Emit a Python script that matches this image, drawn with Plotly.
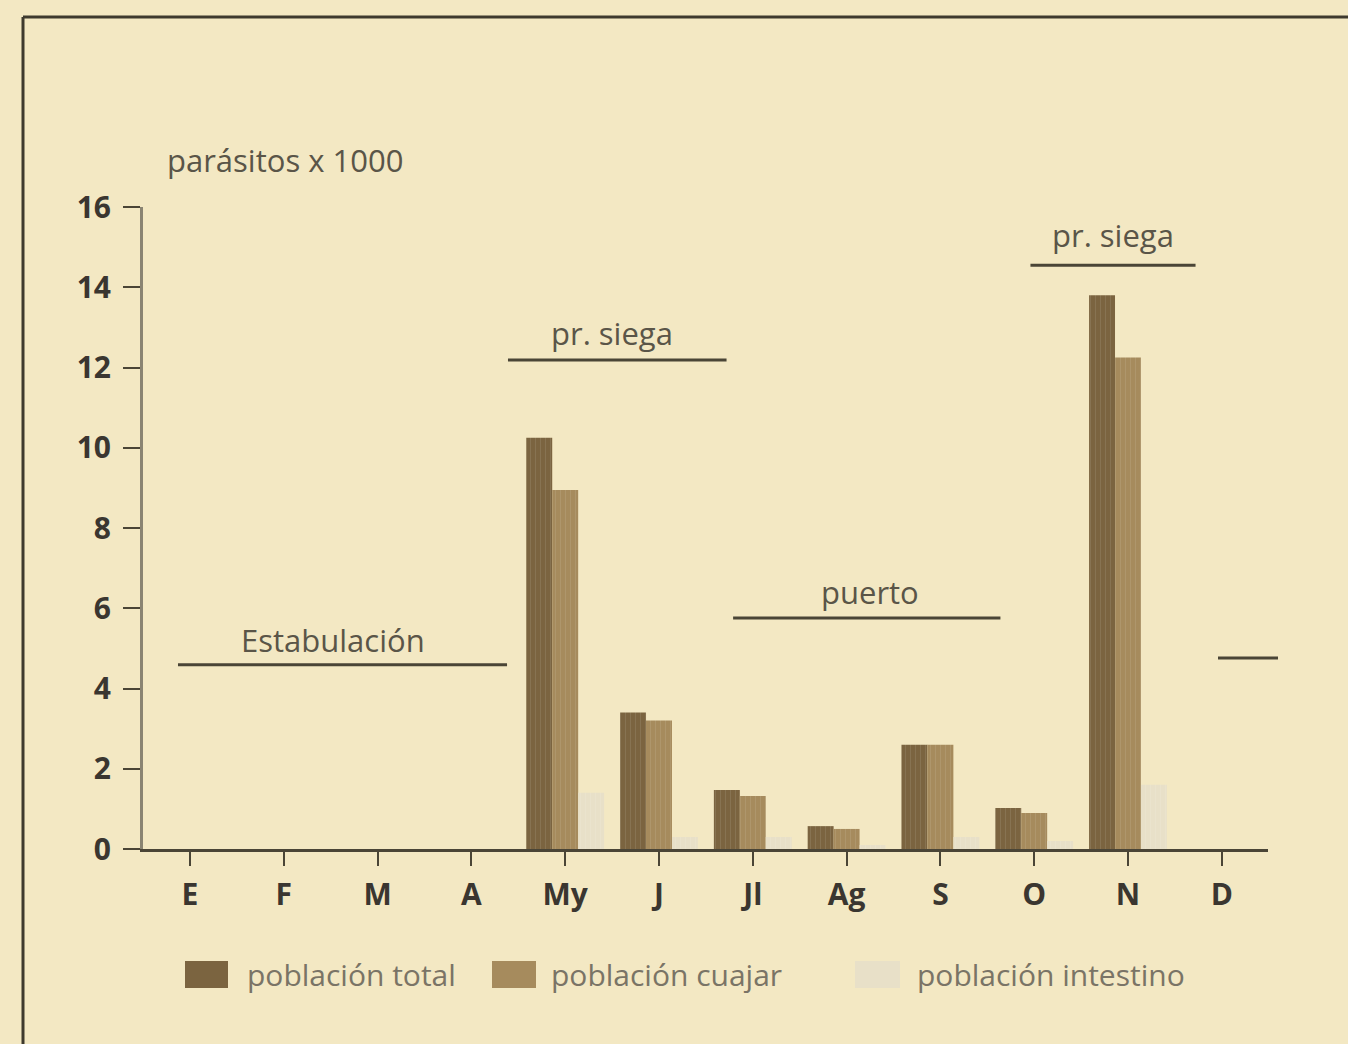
import plotly.graph_objects as go

months = ["E", "F", "M", "A", "My", "J", "Jl", "Ag", "S", "O", "N", "D"]
pob_total = [0, 0, 0, 0, 10.25, 3.4, 1.47, 0.57, 2.6, 1.02, 13.8]
pob_cuajar = [0, 0, 0, 0, 8.95, 3.2, 1.32, 0.5, 2.6, 0.9, 12.25]
pob_intestino = [0, 0, 0, 0, 1.4, 0.3, 0.3, 0.1, 0.3, 0.2, 1.6]
series_names = ["población total", "población cuajar", "población intestino"]
series_colors = ["#7b6440", "#a68b5d", "#e8e0c8"]
y_ticks = [0, 2, 4, 6, 8, 10, 12, 14, 16]

# period labels: (text, x centre, y text, x0 line, x1 line, y line)
periods = [
    ("Estabulación", 1.525, 5.21, -0.128, 3.38, 4.59),
    ("pr. siega", 4.50, 12.86, 3.39, 5.72, 12.19),
    ("puerto", 7.25, 6.40, 5.79, 8.64, 5.76),
    ("pr. siega", 9.84, 15.30, 8.96, 10.72, 14.55),
]

W, H = 1348, 1044
L, R, T, B = 143, 1268, 207, 849
X0PX, STEP = 190, 93.8


def px(x):
    return (x - L) / (R - L)


def py(y):
    return (B - y) / (B - T)


BG = "#f3e8c3"
INK = "#4a4536"
FONT = "Open Sans"

fig = go.Figure()
for name, vals, col in zip(series_names, [pob_total, pob_cuajar, pob_intestino], series_colors):
    fig.add_trace(go.Bar(
        x=list(range(len(vals))), y=vals, name=name,
        marker=dict(color=col, line=dict(width=0),
                    pattern=dict(shape="|", size=5, solidity=0.15,
                                 fgcolor="#ffffff", fgopacity=0.12)),
        showlegend=False,
    ))

shapes = []
annotations = []
for text, xc, yt, x0, x1, yl in periods:
    shapes.append(dict(type="line", xref="x", yref="y", x0=x0, x1=x1, y0=yl, y1=yl,
                       line=dict(color=INK, width=3)))
    annotations.append(dict(x=xc, y=yt, xref="x", yref="y", text=text, showarrow=False,
                            yanchor="middle",
                            font=dict(family=FONT, size=31, color="#5a5548")))

# short line at right
shapes.append(dict(type="line", xref="paper", yref="paper", x0=px(1218), x1=px(1278),
                   y0=py(658), y1=py(658), line=dict(color=INK, width=3)))

# frame (left and top)
shapes.append(dict(type="line", xref="paper", yref="paper", x0=px(23), x1=px(23),
                   y0=py(1044), y1=py(17), line=dict(color="#3e3a2e", width=3)))
shapes.append(dict(type="line", xref="paper", yref="paper", x0=px(23), x1=px(1348),
                   y0=py(17), y1=py(17), line=dict(color="#3e3a2e", width=3)))

# y axis title
annotations.append(dict(x=px(165), y=py(160), xref="paper", yref="paper",
                        text="parásitos x 1000", showarrow=False,
                        xanchor="left", yanchor="middle",
                        font=dict(family=FONT, size=31, color="#5a5548")))

# manual legend
leg_sq = [(185, 228), (492, 536), (855, 900)]
leg_tx = [245, 549, 915]
for (a, b), tx, name, col in zip(leg_sq, leg_tx, series_names, series_colors):
    shapes.append(dict(type="rect", xref="paper", yref="paper", x0=px(a), x1=px(b),
                       y0=py(988), y1=py(961), fillcolor=col, line=dict(width=0)))
    annotations.append(dict(x=px(tx), y=py(974), xref="paper", yref="paper", text=name,
                            showarrow=False, xanchor="left", yanchor="middle",
                            font=dict(family=FONT, size=30, color="#7a7466")))

fig.update_layout(
    width=W, height=H,
    margin=dict(l=L, r=W - R, t=T, b=H - B, pad=0),
    paper_bgcolor=BG, plot_bgcolor=BG,
    barmode="group", bargap=0.17, bargroupgap=0,
    shapes=shapes, annotations=annotations,
    font=dict(family=FONT, color="#3a3630"),
    xaxis=dict(
        range=[(L - X0PX) / STEP, (R - X0PX) / STEP],
        tickmode="array", tickvals=list(range(len(months))), ticktext=months,
        ticks="outside", ticklen=14, tickwidth=2, tickcolor=INK,
        showline=True, linecolor=INK, linewidth=3,
        showgrid=False, zeroline=False,
        tickfont=dict(family=FONT, size=30, color="#3a3630", weight="bold"),
        ticklabelstandoff=3,
    ),
    yaxis=dict(
        range=[0, 16],
        tickmode="array", tickvals=y_ticks,
        ticks="outside", ticklen=17, tickwidth=2, tickcolor=INK,
        showline=True, linecolor="#8a8472", linewidth=3,
        showgrid=False, zeroline=False,
        tickfont=dict(family=FONT, size=30, color="#3a3630", weight="bold"),
        ticklabelstandoff=6,
    ),
)

fig.write_html(
    "out.html",
    config={"displayModeBar": False},
    post_script="document.body.style.margin='0';document.body.style.background='%s';"
                "document.body.style.overflow='hidden';" % BG,
)
